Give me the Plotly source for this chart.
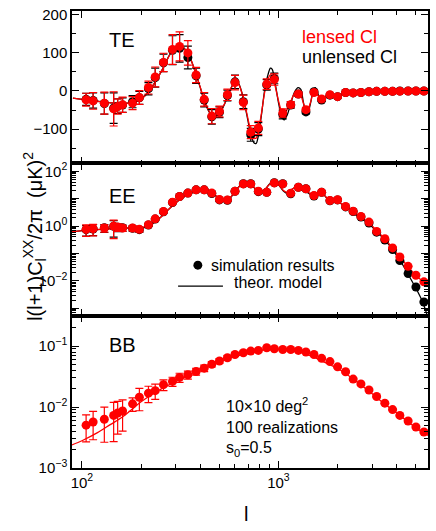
import plotly.graph_objects as go
from plotly.subplots import make_subplots

# multipole bins of the simulated band powers
ELL = [105, 114, 130, 145, 152, 161, 181, 196, 218, 236, 260, 289, 314, 346, 381,
       419, 458, 501, 550, 601, 663, 723, 790, 872, 953, 1052, 1155, 1263, 1380, 1517,
       1659, 1829, 2000, 2197, 2400, 2630, 2890, 3160, 3480, 3810, 4150, 4570, 5010, 5500]

# TE simulation results (muK^2)
TE_LENSED = [-23, -26, -32, -47, -41, -36, -32, -17, 9, 37, 75, 109, 117, 100, 42,
             -22, -66, -54, -10, 22, -30, -108, -97, 18, 30, -58, -36, -8, -49, -4,
             -21, -10, -15, -4, -5, -4, -2, -1, -1, -1, -0.5, 0, 0, 0]
TE_LENSED_ERR = [17, 22, 29, 45, 20, 20, 17, 18, 17, 26, 24, 39, 38, 32, 20,
                 18, 20, 14, 15, 19, 19, 17, 17, 14, 15, 11, 8, 6, 5, 4,
                 3, 3, 2, 2, 1, 1, 1, 1, 1, 0.5, 0.5, 0.5, 0.5, 0.5]
TE_UNLENSED = [-22, -25, -33, -45, -40, -37, -28, -18, 6, 35, 74, 107, 112, 88, 40,
               -24, -68, -56, -12, 24, -28, -115, -100, 16, 33, -62, -37, -8, -55, -2,
               -24, -11, -15, -4, -5, -4, -2, -1, -1, -1, 0, 0, 0, 0]
TE_UNLENSED_ERR = [16, 20, 28, 40, 19, 19, 16, 17, 16, 25, 23, 38, 36, 30, 20,
                   18, 19, 14, 14, 18, 18, 17, 17, 14, 14, 11, 8, 6, 5, 4,
                   3, 3, 2, 2, 1, 1, 1, 1, 1, 0.5, 0.5, 0.5, 0.5, 0.5]

# EE simulation results and relative errors
EE_LENSED = [0.76, 0.80, 0.85, 1.0, 0.92, 0.85, 0.85, 0.76, 1.12, 1.84, 3.4, 7.4, 12, 16, 21,
             21, 16, 9.3, 9.0, 18.7, 34.6, 34.6, 18.7, 17.2, 37.6, 34.6, 15.8, 26, 22.8, 13,
             17.2, 8.6, 9.1, 5.2, 3.5, 2.25, 1.4, 0.64, 0.345, 0.16, 0.074, 0.034, 0.016, 0.0092]
EE_LENSED_REL = [0.45, 0.45, 0.3, 0.65, 0.3, 0.25, 0.2, 0.2, 0.12, 0.1, 0.08, 0.07, 0.06, 0.06, 0.05,
                 0.05, 0.05, 0.05, 0.05, 0.04, 0.04, 0.04, 0.04, 0.04, 0.03, 0.03, 0.03, 0.03, 0.03, 0.03,
                 0.03, 0.03, 0.03, 0.03, 0.03, 0.03, 0.03, 0.03, 0.03, 0.03, 0.03, 0.03, 0.03, 0.03]
EE_UNLENSED = [0.74, 0.78, 0.86, 0.98, 0.90, 0.86, 0.83, 0.74, 1.10, 1.80, 3.3, 7.2, 12, 16, 21,
               21, 15.5, 9.0, 8.8, 18.5, 35, 35, 18, 17, 38, 35, 15.2, 26, 23, 12.5,
               17, 8.4, 9.0, 5.0, 3.4, 2.15, 1.3, 0.6, 0.31, 0.14, 0.055, 0.0185, 0.006, 0.0017]
EE_UNLENSED_REL = [0.42, 0.43, 0.32, 0.6, 0.3, 0.25, 0.22, 0.2, 0.12, 0.1, 0.08, 0.07, 0.06, 0.06, 0.05,
                   0.05, 0.05, 0.05, 0.05, 0.04, 0.04, 0.04, 0.04, 0.04, 0.03, 0.03, 0.03, 0.03, 0.03, 0.03,
                   0.03, 0.03, 0.03, 0.03, 0.03, 0.03, 0.03, 0.03, 0.03, 0.03, 0.03, 0.03, 0.03, 0.03]

# BB simulation results (lensed only) and relative errors
BB_LENSED = [0.00505, 0.0057, 0.0063, 0.0073, 0.0080, 0.0086, 0.0113, 0.0145, 0.0169, 0.0186,
             0.0233, 0.0264, 0.0307, 0.0339, 0.0384, 0.0435, 0.0505, 0.0571, 0.0646, 0.073,
             0.078, 0.083, 0.085, 0.094, 0.0905, 0.088, 0.088, 0.085, 0.080, 0.073,
             0.063, 0.0557, 0.0457, 0.038, 0.0288, 0.024, 0.0191, 0.0149, 0.0116, 0.0091,
             0.0073, 0.0059, 0.0047, 0.0039]
BB_LENSED_REL = [0.47, 0.49, 0.58, 0.63, 0.55, 0.53, 0.25, 0.4, 0.3, 0.28,
                 0.2, 0.17, 0.17, 0.15, 0.13, 0.12, 0.1, 0.09, 0.08, 0.07,
                 0.06, 0.05, 0.05, 0.04, 0.04, 0.04, 0.04, 0.03, 0.03, 0.03,
                 0.03, 0.03, 0.03, 0.03, 0.03, 0.03, 0.03, 0.03, 0.03, 0.03,
                 0.03, 0.03, 0.03, 0.03]

# theoretical model curves
TE_TH_ELL = [90, 100, 120, 140, 160, 180, 200, 220, 240, 260, 280, 300, 320, 340, 360, 380, 400,
             420, 450, 470, 500, 530, 560, 590, 610, 630, 660, 690, 720, 750, 770, 790, 820,
             850, 880, 910, 930, 960, 1000, 1040, 1070, 1110, 1160, 1210, 1260, 1300, 1340,
             1380, 1420, 1460, 1500, 1540, 1580, 1640, 1700, 1770, 1840, 1920, 2000, 2100,
             2250, 2500, 2800, 3200, 3800, 4600, 5800]
TE_TH_LENSED = [-19, -22, -27, -31, -33, -30, -21, 0, 30, 62, 95, 115, 118, 104, 80, 45, 10,
                -25, -58, -66, -58, -35, -5, 18, 24, 16, -15, -58, -100, -122, -124, -106, -58,
                -5, 28, 42, 40, 15, -25, -55, -60, -48, -25, -5, 0, -10, -32,
                -46, -44, -28, -6, -2, -10, -21, -20, -10, -8, -13, -14, -9,
                -5, -4, -2, -1, -0.5, 0, 0]
TE_TH_UNLENSED = [-19, -22, -27, -31, -33, -30, -21, 0, 30, 62, 96, 117, 120, 105, 80, 45, 9,
                  -27, -60, -69, -60, -36, -5, 20, 27, 18, -15, -62, -110, -136, -138, -118, -62,
                  0, 38, 60, 57, 24, -30, -68, -76, -62, -30, -2, 9, 4, -30,
                  -58, -53, -30, 0, 9, -3, -27, -28, -12, -4, -15, -17, -10,
                  -6, -4, -2, -1, -0.5, 0, 0]

EE_TH_ELL = [89, 100, 130, 160, 200, 220, 250, 280, 320, 360, 400, 440, 480, 520, 560, 600,
             640, 680, 720, 760, 800, 850, 900, 950, 1000, 1060, 1120, 1180, 1240, 1300,
             1370, 1440, 1520, 1600, 1680, 1760, 1840, 1920, 2000, 2150, 2300, 2600, 2900,
             3200, 3500, 3800, 4200, 4600, 5000, 5400, 5800]
EE_TH_LENSED = [0.62, 0.68, 0.78, 0.85, 0.87, 1.05, 2.0, 4.5, 10, 16, 20, 19, 13, 9.0, 10.0, 18,
                30, 36, 35, 24, 17, 21, 33, 37, 32, 20, 16.5, 23, 25, 21,
                20, 16, 13.5, 16, 15, 11, 8.8, 8.6, 8.3, 5.6, 4.0, 2.2, 1.3,
                0.62, 0.33, 0.16, 0.068, 0.031, 0.016, 0.0098, 0.0066]
EE_TH_UNLENSED = [0.62, 0.68, 0.78, 0.85, 0.85, 1.0, 2.0, 4.5, 10, 16, 21, 20, 12.5, 8.5, 9.5, 18,
                  31, 38, 36, 23, 15.5, 20, 34, 39, 33, 19, 15, 23, 26, 21,
                  19, 15, 12.5, 16.5, 15.5, 10.5, 8.3, 8.8, 8.4, 5.4, 3.8, 2.0, 1.2,
                  0.58, 0.30, 0.14, 0.05, 0.016, 0.0055, 0.0018, 0.0004]

BB_TH_ELL = [89, 100, 120, 140, 160, 180, 200, 240, 290, 350, 420, 500, 600, 720, 870, 1000,
             1150, 1300, 1500, 1700, 2000, 2400, 2900, 3500, 4200, 5000, 5800]
BB_TH_LENSED = [0.0024, 0.0028, 0.0038, 0.0052, 0.0068, 0.0092, 0.0122, 0.018, 0.025, 0.033,
                0.043, 0.055, 0.067, 0.079, 0.088, 0.089, 0.086, 0.079, 0.067, 0.055, 0.043,
                0.029, 0.018, 0.011, 0.0071, 0.0046, 0.0034]

RED = '#ff0000'
FONT = 'Liberation Sans, Arial, Helvetica, sans-serif'


def add_panel(fig, row, th_ell, th_curves, points):
    """
    Draws the theory lines and then the simulation points of one panel.
    :param th_curves: list of (values, colour) for the model lines
    :param points: list of (values, errors, colour) for the band powers
    """
    for vals, color in th_curves:
        fig.add_trace(go.Scatter(
            x=th_ell, y=vals, mode='lines',
            line=dict(color=color, width=1.3, shape='spline', smoothing=0.8),
            hoverinfo='skip', showlegend=False,
        ), row=row, col=1)
    for vals, errs, color in points:
        fig.add_trace(go.Scatter(
            x=ELL, y=vals, mode='markers',
            marker=dict(color=color, size=9),
            error_y=dict(type='data', array=errs, color=color, thickness=1.2, width=4),
            showlegend=False,
        ), row=row, col=1)


def rel_to_abs(vals, rel):
    return [v * r for v, r in zip(vals, rel)]


fig = make_subplots(rows=3, cols=1, shared_xaxes=True, vertical_spacing=0)

add_panel(fig, 1, TE_TH_ELL,
          [(TE_TH_UNLENSED, 'black'), (TE_TH_LENSED, RED)],
          [(TE_UNLENSED, TE_UNLENSED_ERR, 'black'), (TE_LENSED, TE_LENSED_ERR, RED)])
add_panel(fig, 2, EE_TH_ELL,
          [(EE_TH_UNLENSED, 'black'), (EE_TH_LENSED, RED)],
          [(EE_UNLENSED, rel_to_abs(EE_UNLENSED, EE_UNLENSED_REL), 'black'),
           (EE_LENSED, rel_to_abs(EE_LENSED, EE_LENSED_REL), RED)])
add_panel(fig, 3, BB_TH_ELL,
          [(BB_TH_LENSED, RED)],
          [(BB_LENSED, rel_to_abs(BB_LENSED, BB_LENSED_REL), RED)])

axis_style = dict(
    showline=True, linecolor='black', linewidth=1.5, mirror='ticks',
    ticks='inside', ticklen=7, tickwidth=1.2, tickcolor='black',
    tickfont=dict(size=15, color='black', family=FONT),
    showgrid=False, zeroline=False,
)
minor_log = dict(dtick='D1', ticks='inside', ticklen=4, tickwidth=1, tickcolor='black')

for r in (1, 2, 3):
    fig.update_xaxes(
        type='log', range=[1.9494, 3.7612],
        tickvals=[100, 1000], ticktext=['10<sup>2</sup>', '10<sup>3</sup>'],
        minor=minor_log, row=r, col=1, **axis_style)

fig.update_yaxes(range=[-190, 210], dtick=100,
                 minor=dict(dtick=50, ticks='inside', ticklen=4, tickwidth=1, tickcolor='black'),
                 row=1, col=1, **axis_style)
fig.update_yaxes(type='log', range=[-3.27, 2.29],
                 tickvals=[1e-3, 1e-2, 1e-1, 1, 10, 100],
                 ticktext=['', '10<sup>\u22122</sup>', '', '10<sup>0</sup>', '', '10<sup>2</sup>'],
                 minor=minor_log, row=2, col=1, **axis_style)
fig.update_yaxes(type='log', range=[-3, -0.5],
                 tickvals=[1e-3, 1e-2, 1e-1],
                 ticktext=['10<sup>\u22123</sup>', '10<sup>\u22122</sup>', '10<sup>\u22121</sup>'],
                 minor=minor_log, row=3, col=1, **axis_style)

ann = [
    dict(x=0.098, y=0.937, text='TE', font=dict(size=20)),
    dict(x=0.098, y=0.595, text='EE', font=dict(size=20)),
    dict(x=0.098, y=0.27, text='BB', font=dict(size=20)),
    dict(x=0.640, y=0.944, text='lensed Cl', xanchor='left', font=dict(size=18, color=RED)),
    dict(x=0.640, y=0.900, text='unlensed Cl', xanchor='left', font=dict(size=18)),
    dict(x=0.385, y=0.4437, text='simulation results', xanchor='left', font=dict(size=16)),
    dict(x=0.449, y=0.405, text='theor. model', xanchor='left', font=dict(size=16)),
    dict(x=0.427, y=0.0887, xanchor='left', align='left', font=dict(size=16),
         text='10\u00d710 deg<sup>2</sup><br>100 realizations<br>s<sub>0</sub>=0.5'),
    dict(x=-0.15, y=0.506, textangle=-90, font=dict(size=20),
         text='l(l+1)C<sub>l</sub><sup>XX</sup>/2\u03c0  (\u03bcK)<sup>2</sup>'),
    dict(x=0.49, y=-0.1, text='l', font=dict(size=20)),
]
for a in ann:
    a.setdefault('xref', 'paper')
    a.setdefault('yref', 'paper')
    a.setdefault('showarrow', False)
    a.setdefault('yanchor', 'middle')
    a['font'].setdefault('color', 'black')
    a['font'].setdefault('family', FONT)

fig.update_layout(
    autosize=False,
    width=436,
    height=531,
    margin=dict(l=72, r=8, t=6, b=63),
    paper_bgcolor='white',
    plot_bgcolor='white',
    font=dict(family=FONT, color='black'),
    annotations=ann,
    shapes=[
        # legend glyphs: filled dot and model line
        dict(type='circle', xref='paper', yref='paper', x0=0.341, x1=0.366, y0=0.434, y1=0.4535,
             fillcolor='black', line=dict(color='black', width=0)),
        dict(type='line', xref='paper', yref='paper', x0=0.298, x1=0.424, y0=0.398, y1=0.398,
             line=dict(color='black', width=1.3)),
    ],
)

# drop the default page margin so the figure sits at the window corner
fig.write_html('out.html', config={'displayModeBar': False},
               post_script="document.body.style.margin='0px';")
